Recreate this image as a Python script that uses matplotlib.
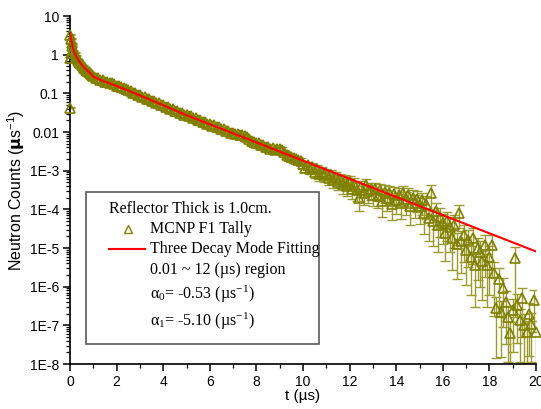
import numpy as np
import matplotlib
matplotlib.use("Agg")
import matplotlib.pyplot as plt
from matplotlib.ticker import FixedLocator, FixedFormatter, LogLocator, MultipleLocator, NullFormatter
from matplotlib.patches import Rectangle
from matplotlib.lines import Line2D

# ---------------- data ----------------
# early time points (µs) and counts
t_early = [0.0, 0.01, 0.02, 0.03, 0.05, 0.08, 0.1, 0.15, 0.2, 0.25, 0.3, 0.35, 0.4,
           0.45, 0.5, 0.55, 0.6, 0.65, 0.7, 0.75, 0.8, 0.85, 0.9, 0.95]
counts_early = [0.042, 0.8, 3.3, 1.1, 2.6, 2.0, 1.7, 1.3, 1.12, 0.95, 0.80, 0.74, 0.64,
                0.61, 0.54, 0.51, 0.46, 0.44, 0.40, 0.385, 0.355, 0.34, 0.315, 0.30]

# regular tally bins from 1.0 to 20.0 µs, step 0.1
t_main = np.round(np.arange(1.0, 20.05, 0.1), 2)
counts_1_4 = [0.285, 0.25, 0.255, 0.225, 0.226, 0.198, 0.201, 0.181, 0.182, 0.170,
              0.152, 0.154, 0.146, 0.139, 0.131, 0.124, 0.116, 0.104, 0.103, 0.092,
              0.090, 0.081, 0.080, 0.072, 0.071, 0.064, 0.063, 0.057, 0.056, 0.050]
counts_4_8 = [0.051, 0.0445, 0.0448, 0.0400, 0.0398, 0.0355, 0.0356, 0.0318, 0.0315, 0.0283,
              0.0282, 0.0252, 0.0253, 0.0226, 0.0228, 0.0203, 0.0204, 0.0183, 0.0184, 0.0163,
              0.0164, 0.0146, 0.0148, 0.0131, 0.0132, 0.0117, 0.0119, 0.0106, 0.0107, 0.0097,
              0.0095, 0.0089, 0.0087, 0.0086, 0.0083, 0.0079, 0.0074, 0.0066, 0.0058, 0.0056]
counts_8_12 = [0.0052, 0.0051, 0.0046, 0.0047, 0.0042, 0.0041, 0.0037, 0.0038, 0.0034, 0.0036,
               0.0036, 0.0035, 0.0030, 0.0026, 0.0024, 0.0023, 0.0021, 0.00205, 0.0019, 0.0018,
               1.5e-3, 1.2e-3, 1.4e-3, 1.1e-3, 1.25e-3, 9.5e-4, 1.1e-3, 8.0e-4, 9.5e-4, 7.5e-4,
               8.6e-4, 6.5e-4, 7.8e-4, 5.6e-4, 6.8e-4, 5.2e-4, 6.0e-4, 4.4e-4, 5.5e-4, 4.0e-4]
counts_12_16 = [5.2e-4, 3.4e-4, 4.6e-4, 3.2e-4, 2.0e-4, 3.8e-4, 2.6e-4, 4.2e-4, 2.9e-4, 3.3e-4,
                2.4e-4, 3.4e-4, 2.2e-4, 3.1e-4, 1.6e-4, 2.8e-4, 2.0e-4, 2.6e-4, 1.4e-4, 2.5e-4,
                1.7e-4, 2.4e-4, 1.5e-4, 2.6e-4, 1.8e-4, 2.3e-4, 1.2e-4, 2.0e-4, 1.5e-4, 1.9e-4,
                1.2e-4, 1.7e-4, 8.0e-5, 1.4e-4, 6.0e-5, 2.6e-4, 5.0e-5, 9.0e-5, 4.0e-5, 6.5e-5]
counts_16_20 = [4.5e-5, 2.5e-5, 5.0e-5, 3.5e-5, 1.8e-5, 4.0e-5, 1.3e-5, 8.0e-5, 1.5e-5, 2.2e-5,
                9.0e-6, 1.6e-5, 6.0e-6, 1.8e-5, 3.7e-6, 1.0e-5, 8.0e-6, 4.5e-6, 1.2e-5, 3.7e-6,
                6.0e-6, 1.2e-5, 2.2e-6, 2.8e-7, 1.6e-6, 2.2e-7, 9.0e-7, 4.0e-7, 1.6e-7, 6.5e-8,
                2.5e-7, 5.5e-6, 3.4e-7, 1.4e-7, 5.0e-7, 1.0e-7, 6.8e-8, 2.0e-7, 1.1e-7, 4.5e-7,
                6.8e-8]

# relative statistical errors from 8.0 µs to 20.0 µs (before: hidden under markers)
rel_err_early = 0.03
rel_err_8_20 = [0.08, 0.1, 0.09, 0.12, 0.1, 0.11, 0.13, 0.1, 0.14, 0.12,
                0.13, 0.15, 0.14, 0.16, 0.15, 0.18, 0.16, 0.19, 0.17, 0.2,
                0.2, 0.25, 0.22, 0.27, 0.24, 0.3, 0.26, 0.32, 0.28, 0.33,
                0.3, 0.36, 0.32, 0.38, 0.34, 0.4, 0.36, 0.42, 0.38, 0.44,
                0.4, 0.46, 0.42, 0.48, 0.55, 0.44, 0.5, 0.42, 0.5, 0.46,
                0.5, 0.45, 0.52, 0.47, 0.6, 0.48, 0.55, 0.5, 0.62, 0.5,
                0.55, 0.5, 0.62, 0.5, 0.6, 0.52, 0.68, 0.55, 0.6, 0.56,
                0.65, 0.58, 0.72, 0.6, 0.75, 0.62, 0.78, 0.65, 0.8, 0.7,
                0.72, 0.82, 0.7, 0.78, 0.85, 0.75, 0.88, 0.6, 0.85, 0.8,
                0.88, 0.8, 0.9, 0.78, 0.92, 0.85, 0.88, 0.9, 0.85, 0.92,
                0.9, 0.85, 0.92, 0.95, 0.9, 0.93, 0.9, 0.92, 0.93, 0.9,
                0.92, 0.97, 0.9, 0.92, 0.9, 0.92, 0.9, 0.92, 0.9, 0.85,
                0.9]

# three decay mode fitting curve
t_fit = [0.0, 0.05, 0.1, 0.15, 0.2, 0.3, 0.4, 0.5, 0.6, 0.7, 0.8, 0.9, 1.0, 1.25,
         1.5, 2.0, 2.5, 3.0, 3.5, 4.0, 5.0, 6.0, 8.0, 10.0, 12.0, 14.0, 16.0, 18.0, 20.0]
counts_fit = [3.6, 2.5, 1.75, 1.35, 1.1, 0.83, 0.66, 0.55, 0.47, 0.41, 0.36, 0.32, 0.27, 0.23,
              0.20, 0.155, 0.118, 0.088, 0.066, 0.049, 0.0272, 0.0158, 5.37e-3, 1.82e-3,
              6.17e-4, 2.09e-4, 7.08e-5, 2.40e-5, 8.13e-6]

y_ticks = [10, 1, 0.1, 0.01, 1e-3, 1e-4, 1e-5, 1e-6, 1e-7, 1e-8]
y_ticklabels = ["10", "1", "0.1", "0.01", "1E-3", "1E-4", "1E-5", "1E-6", "1E-7", "1E-8"]
x_ticks = [0, 2, 4, 6, 8, 10, 12, 14, 16, 18, 20]

legend_title = "Reflector Thick is 1.0cm."
legend_data = "MCNP F1 Tally"
legend_fit = "Three Decay Mode Fitting"
legend_lines = ["0.01 ~ 12 (µs) region",
                r"$\mathregular{\alpha_0}$= -0.53 (µs$\mathregular{^{-1}}$)",
                r"$\mathregular{\alpha_1}$= -5.10 (µs$\mathregular{^{-1}}$)"]

# ---------------- assemble ----------------
t_all = np.concatenate([t_early, t_main])
counts_all = np.array(counts_early + counts_1_4 + counts_4_8 + counts_8_12 + counts_12_16 + counts_16_20)
n_before8 = len(counts_early) + len(counts_1_4) + len(counts_4_8)
rel_err = np.array([rel_err_early] * n_before8 + rel_err_8_20)
yerr = rel_err * counts_all

OLIVE = "#808000"
BAR = "#9a9a30"

plt.rcParams["font.family"] = ["Liberation Sans", "DejaVu Sans"]

fig = plt.figure(figsize=(5.41, 4.09), dpi=100)
ax = fig.add_axes([70 / 541, 1 - 364 / 409, 466 / 541, 348 / 409])

ax.errorbar(t_all, counts_all, yerr=yerr, fmt="none", ecolor=BAR, elinewidth=1.0,
            capsize=3.5, capthick=1.0, zorder=2)
ax.plot(t_all, counts_all, linestyle="none", marker="^", markersize=7,
        markerfacecolor="none", markeredgecolor=OLIVE, markeredgewidth=1.2,
        zorder=3, clip_on=False)
ax.plot(t_fit, counts_fit, color="#ff0000", linewidth=1.5, zorder=4)

ax.set_yscale("log")
ax.set_xlim(0, 20)
ax.set_ylim(1e-8, 10)

ax.xaxis.set_major_locator(FixedLocator(x_ticks))
ax.xaxis.set_minor_locator(MultipleLocator(1))
ax.yaxis.set_major_locator(FixedLocator(y_ticks))
ax.yaxis.set_major_formatter(FixedFormatter(y_ticklabels))
ax.yaxis.set_minor_locator(LogLocator(base=10, subs=np.arange(2, 10), numticks=30))
ax.yaxis.set_minor_formatter(NullFormatter())

for s in ["top", "right"]:
    ax.spines[s].set_visible(False)
for s in ["left", "bottom"]:
    ax.spines[s].set_linewidth(1.2)

ax.tick_params(which="major", direction="out", length=5, width=1.1, labelsize=10, pad=3)
ax.tick_params(which="minor", direction="out", length=3, width=0.9)

ax.set_xlabel("t (µs)", fontsize=11, labelpad=0)
ax.set_ylabel(r"Neutron Counts ($\mathbf{\mu}$s$\mathregular{^{-1}}$)", fontsize=11.5, labelpad=2)

# ---------------- legend box ----------------
def fx(px):
    return (px - 70) / 466

def fy(py):
    return (364 - py) / 348

ax.add_patch(Rectangle((fx(86), fy(344)), fx(319) - fx(86), fy(192) - fy(344),
                       transform=ax.transAxes, fill=True, facecolor="white",
                       edgecolor="#5a5a5a", linewidth=1.2, zorder=5, clip_on=False))
serif = ["Liberation Serif", "DejaVu Serif"]
fs = 11.5
ax.text(fx(109), fy(209), legend_title, transform=ax.transAxes, family=serif,
        fontsize=fs, va="center", ha="left", zorder=6)
ax.add_line(Line2D([fx(128)], [fy(229)], transform=ax.transAxes, marker="^",
                   markersize=5.5, markerfacecolor="none", markeredgecolor=OLIVE,
                   markeredgewidth=1.0, linestyle="none", zorder=6, clip_on=False))
ax.text(fx(150), fy(229), legend_data, transform=ax.transAxes, family=serif,
        fontsize=fs, va="center", ha="left", zorder=6)
ax.add_line(Line2D([fx(109), fx(145)], [fy(249), fy(249)], transform=ax.transAxes,
                   color="#ff0000", linewidth=1.5, zorder=6, clip_on=False))
ax.text(fx(150), fy(249), legend_fit, transform=ax.transAxes, family=serif,
        fontsize=fs, va="center", ha="left", zorder=6)
for txt, py in zip(legend_lines, [270, 294, 321]):
    ax.text(fx(150), fy(py), txt, transform=ax.transAxes, family=serif,
            fontsize=fs, va="center", ha="left", zorder=6)

fig.savefig("out.png", dpi=100)
